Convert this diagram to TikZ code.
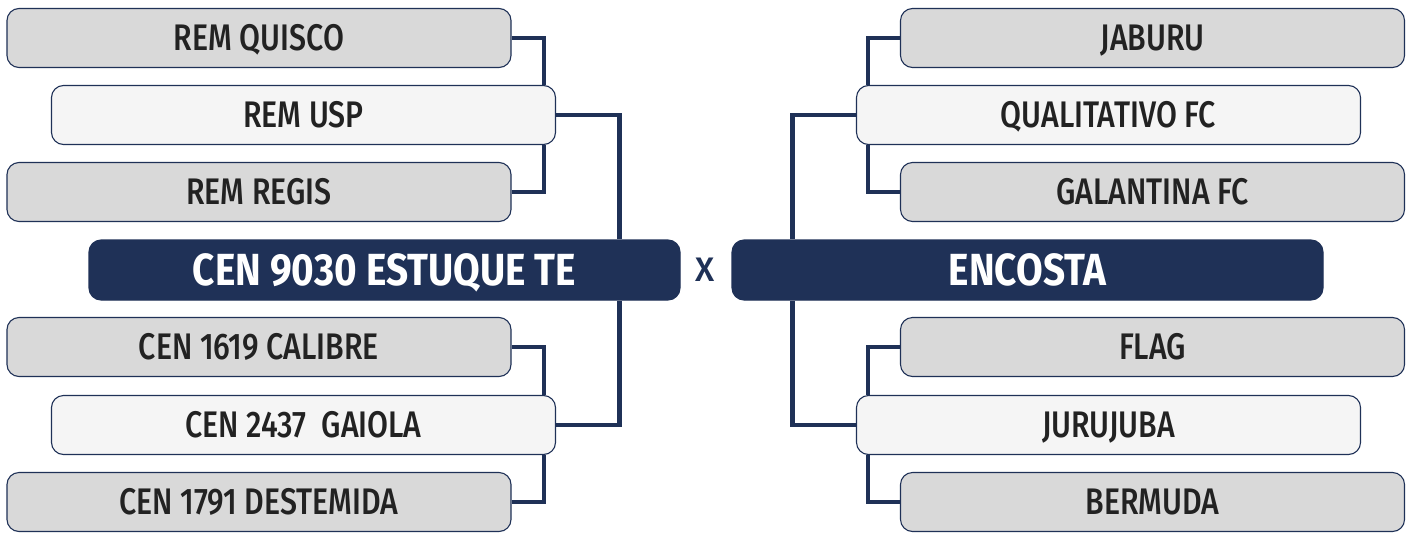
\documentclass[tikz,border=0pt]{standalone}
\usepackage{fontspec}
\setmainfont{Fira Sans}[FakeStretch=0.82, UprightFont=* Medium, BoldFont=* Bold]
\newfontfamily\finalfont{Fira Sans}[FakeStretch=0.86, UprightFont=* Bold]
\newfontfamily\vsfont{Fira Sans}[UprightFont=* Medium]
\usetikzlibrary{backgrounds,calc}
\definecolor{navy}{HTML}{1F3157}
\definecolor{boxgrey}{HTML}{D9D9D9}
\definecolor{boxlight}{HTML}{F5F5F5}
\definecolor{txt}{HTML}{222222}
\begin{document}
\begin{tikzpicture}[x=1pt,y=-1pt,
  team/.style={draw=navy, line width=1.1pt, rounded corners=12pt, fill=boxgrey,
    minimum width=504pt, minimum height=59pt, inner sep=0pt, text=txt,
    text height=25.5pt, text depth=0pt,
    font=\fontsize{37}{40}\selectfont},
  winner/.style={team, fill=boxlight},
  final/.style={team, fill=navy, draw=navy, text=white, minimum width=591pt,
    minimum height=60pt, text height=31pt, font=\fontsize{45}{48}\selectfont\finalfont},
  conn/.style={draw=navy, line width=4.5pt}]
\useasboundingbox (0,0) rectangle (1412,533);
% left side
\node[team]   (lq) at (259,38)  {REM QUISCO};
\node[winner] (lu) at (303.5,115) {REM USP};
\node[team]   (lr) at (259,192) {REM REGIS};
\node[final]  (lf) at (384.5,270) {CEN 9030 ESTUQUE TE};
\node[team]   (lc) at (259,347) {CEN 1619 CALIBRE};
\node[winner] (lg) at (303.5,425) {CEN 2437~ GAIOLA};
\node[team]   (ld) at (259,502) {CEN 1791 DESTEMIDA};
% versus
\node[text=navy, inner sep=0pt, text height=23pt, text depth=0pt,
  font=\fontsize{34}{36}\selectfont\vsfont] (vs) at (705,270) {X};
% right side
\node[team]   (rj) at (1152.5,38)  {JABURU};
\node[winner] (rq) at (1108.5,115) {QUALITATIVO FC};
\node[team]   (rg) at (1152.5,192) {GALANTINA FC};
\node[final]  (rf) at (1027.5,270) {ENCOSTA};
\node[team]   (rl) at (1152.5,347) {FLAG};
\node[winner] (ru) at (1108.5,425) {JURUJUBA};
\node[team]   (rb) at (1152.5,502) {BERMUDA};
\begin{scope}[on background layer]
  \fill[white] (0,0) rectangle (1412,533);
  \draw[conn] (lq.east) -| ([xshift=-12pt]lu.north east);
  \draw[conn] (lr.east) -| ([xshift=-12pt]lu.south east);
  \draw[conn] (lu.east) -| ([xshift=-61pt]lf.north east);
  \draw[conn] (lg.east) -| ([xshift=-61pt]lf.south east);
  \draw[conn] (lc.east) -| ([xshift=-12pt]lg.north east);
  \draw[conn] (ld.east) -| ([xshift=-12pt]lg.south east);
  \draw[conn] (rj.west) -| ([xshift=12pt]rq.north west);
  \draw[conn] (rg.west) -| ([xshift=12pt]rq.south west);
  \draw[conn] (rq.west) -| ([xshift=61pt]rf.north west);
  \draw[conn] (ru.west) -| ([xshift=61pt]rf.south west);
  \draw[conn] (rl.west) -| ([xshift=12pt]ru.north west);
  \draw[conn] (rb.west) -| ([xshift=12pt]ru.south west);
\end{scope}
\end{tikzpicture}
\end{document}
